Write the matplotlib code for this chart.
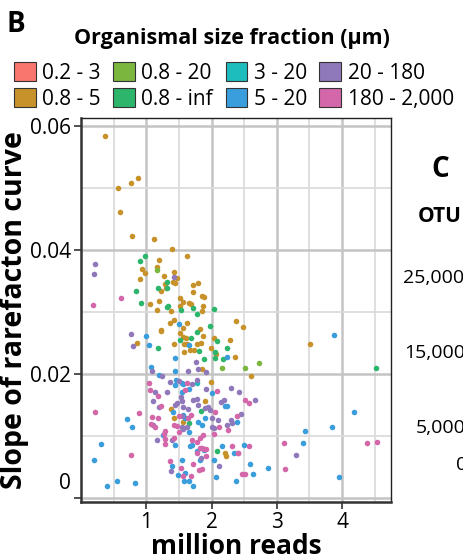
import numpy as np
import matplotlib
matplotlib.use('Agg')
import matplotlib.pyplot as plt
import matplotlib.transforms as mtransforms
from matplotlib.patches import Patch

plt.rcParams['font.family'] = ['Open Sans', 'DejaVu Sans']

# size fractions and their colours
labels = ['0.2 - 3', '0.8 - 5', '0.8 - 20', '0.8 - inf', '3 - 20', '5 - 20', '20 - 180', '180 - 2,000']
colors = ['#F8766D', '#C8922A', '#7BB63F', '#2DB56B', '#1EBDBD', '#3A9DDC', '#9079BA', '#D467A9']

# points: (million reads, slope)
pts_02_3 = []
pts_08_5 = [(0.37, 0.0584), (0.57, 0.0500), (0.77, 0.0508), (0.87, 0.0516), (0.60, 0.0461), (0.78, 0.0422),
            (1.12, 0.0417), (1.39, 0.0402), (1.63, 0.0391), (1.20, 0.0384), (0.94, 0.0370), (0.98, 0.0363),
            (1.17, 0.0372), (1.43, 0.0365), (1.47, 0.0355), (1.27, 0.0358), (1.41, 0.0348), (1.44, 0.0347),
            (0.91, 0.0353), (1.29, 0.0345), (1.30, 0.0338), (1.23, 0.0334), (1.72, 0.0344), (1.80, 0.0347),
            (1.72, 0.0332), (1.86, 0.0326), (1.89, 0.0324), (1.51, 0.0323), (1.57, 0.0316), (1.66, 0.0315),
            (1.68, 0.0313), (1.87, 0.0309), (1.85, 0.0301), (1.19, 0.0318), (1.06, 0.0313), (1.17, 0.0303),
            (1.38, 0.0302), (1.52, 0.0309), (2.38, 0.0286), (2.48, 0.0276), (1.36, 0.0283), (1.42, 0.0287),
            (1.62, 0.0282), (1.56, 0.0274), (1.83, 0.0273), (1.22, 0.0271), (0.86, 0.0250), (1.23, 0.0269),
            (1.52, 0.0266), (1.57, 0.0259), (1.61, 0.0258), (1.87, 0.0261), (1.58, 0.0249), (1.43, 0.0248),
            (1.63, 0.0248), (1.77, 0.0248), (1.84, 0.0250), (1.58, 0.0236), (1.67, 0.0239), (1.73, 0.0238),
            (1.86, 0.0208), (2.03, 0.0258), (2.29, 0.0255), (2.36, 0.0227), (2.60, 0.0197), (1.99, 0.0187),
            (1.99, 0.0242), (2.07, 0.0232), (3.51, 0.0249), (1.38, 0.0143), (1.43, 0.0129), (1.57, 0.0122),
            (2.21, 0.0072), (2.22, 0.0067), (1.90, 0.0156)]
pts_08_20 = [(1.16, 0.0368), (2.16, 0.0210), (2.52, 0.0210), (2.73, 0.0218)]
pts_08_inf = [(0.98, 0.0390), (0.91, 0.0383), (1.31, 0.0349), (1.18, 0.0339), (1.32, 0.0339), (0.84, 0.0334),
              (0.92, 0.0315), (1.31, 0.0308), (1.34, 0.0310), (1.53, 0.0303), (1.72, 0.0306), (1.77, 0.0297),
              (2.03, 0.0305), (1.98, 0.0277), (1.18, 0.0242), (1.52, 0.0255), (1.77, 0.0267), (1.68, 0.0258),
              (1.81, 0.0237), (1.88, 0.0224), (2.09, 0.0254), (2.06, 0.0236), (2.06, 0.0226), (2.17, 0.0224),
              (2.23, 0.0242), (4.52, 0.0209), (1.66, 0.0121), (2.09, 0.0076), (1.84, 0.0141)]
pts_3_20 = [(1.77, 0.0186)]
pts_5_20 = [(1.50, 0.0280), (0.99, 0.0261), (1.04, 0.0246), (1.66, 0.0246), (2.24, 0.0227), (1.44, 0.0226),
            (1.07, 0.0211), (1.20, 0.0198), (1.44, 0.0204), (1.45, 0.0190), (1.44, 0.0183), (1.55, 0.0186),
            (1.57, 0.0184), (1.65, 0.0176), (1.54, 0.0171), (2.01, 0.0169), (0.70, 0.0127), (0.78, 0.0114),
            (1.25, 0.0101), (1.41, 0.0138), (1.57, 0.0134), (1.59, 0.0129), (1.66, 0.0107), (1.67, 0.0084),
            (1.70, 0.0085), (1.39, 0.0052), (1.55, 0.0062), (1.49, 0.0037), (1.60, 0.0041), (0.31, 0.0087),
            (0.20, 0.0061), (0.40, 0.0020), (0.55, 0.0027), (0.83, 0.0024), (1.44, 0.0085), (1.58, 0.0027),
            (1.65, 0.0027), (1.72, 0.0020), (1.82, 0.0061), (2.04, 0.0061), (2.07, 0.0034), (2.16, 0.0084),
            (2.35, 0.0072), (2.50, 0.0085), (2.59, 0.0055), (2.37, 0.0027), (2.63, 0.0039), (2.39, 0.0123),
            (2.20, 0.0149), (2.24, 0.0148), (2.86, 0.0048), (1.90, 0.0129), (1.80, 0.0123), (1.85, 0.0118),
            (1.77, 0.0075), (1.89, 0.0077), (3.87, 0.0263), (4.18, 0.0139), (3.43, 0.0108), (3.85, 0.0114),
            (3.40, 0.0088), (3.95, 0.0034)]
pts_20_180 = [(0.22, 0.0378), (0.20, 0.0362), (1.43, 0.0356), (0.76, 0.0264), (0.79, 0.0245), (1.76, 0.0219),
              (1.80, 0.0208), (1.92, 0.0203), (1.78, 0.0191), (1.91, 0.0175), (2.30, 0.0177), (2.42, 0.0171),
              (1.09, 0.0204), (1.24, 0.0196), (1.64, 0.0204), (1.37, 0.0187), (1.50, 0.0188), (1.70, 0.0184),
              (1.13, 0.0171), (1.31, 0.0171), (1.10, 0.0156), (1.20, 0.0146), (1.10, 0.0118), (1.16, 0.0094),
              (1.39, 0.0094), (1.44, 0.0150), (1.47, 0.0153), (1.53, 0.0163), (1.55, 0.0156), (1.56, 0.0146),
              (1.64, 0.0143), (1.54, 0.0115), (1.57, 0.0112), (1.55, 0.0133), (1.62, 0.0115), (1.38, 0.0044),
              (2.11, 0.0052), (2.67, 0.0158), (2.45, 0.0136), (2.30, 0.0126), (2.32, 0.0121), (2.23, 0.0117),
              (2.19, 0.0158), (2.14, 0.0154), (2.10, 0.0126), (2.03, 0.0113), (1.77, 0.0160), (1.90, 0.0145),
              (1.95, 0.0146), (1.97, 0.0142), (2.00, 0.0129), (2.01, 0.0115), (1.84, 0.0065), (3.29, 0.0070),
              (1.72, 0.0158), (1.80, 0.0150)]
pts_180_2000 = [(0.19, 0.0312), (0.62, 0.0323), (2.09, 0.0173), (1.62, 0.0185), (1.59, 0.0174), (1.04, 0.0186),
                (1.05, 0.0174), (0.89, 0.0137), (1.18, 0.0165), (1.23, 0.0148), (1.09, 0.0131), (1.18, 0.0129),
                (1.07, 0.0119), (1.13, 0.0115), (1.28, 0.0108), (1.27, 0.0103), (1.28, 0.0095), (1.28, 0.0087),
                (1.42, 0.0096), (1.50, 0.0106), (1.42, 0.0118), (1.47, 0.0116), (1.50, 0.0132), (1.64, 0.0129),
                (1.68, 0.0134), (1.70, 0.0093), (1.37, 0.0059), (1.53, 0.0048), (1.57, 0.0035), (1.72, 0.0054),
                (1.68, 0.0036), (0.22, 0.0138), (0.76, 0.0070), (1.81, 0.0045), (1.86, 0.0046), (1.77, 0.0073),
                (1.83, 0.0081), (1.88, 0.0079), (1.92, 0.0079), (2.32, 0.0084), (2.40, 0.0072), (2.41, 0.0072),
                (2.57, 0.0084), (2.47, 0.0038), (2.52, 0.0038), (2.52, 0.0158), (2.58, 0.0153), (2.39, 0.0133),
                (2.25, 0.0109), (2.05, 0.0139), (2.12, 0.0115), (2.04, 0.0103), (1.82, 0.0096), (1.87, 0.0102),
                (1.77, 0.0091), (1.92, 0.0067), (1.85, 0.0080), (3.11, 0.0088), (4.38, 0.0088), (4.53, 0.0091),
                (3.12, 0.0046)]
series = [pts_02_3, pts_08_5, pts_08_20, pts_08_inf, pts_3_20, pts_5_20, pts_20_180, pts_180_2000]

xticks = [1, 2, 3, 4]
yticks = [0, 0.02, 0.04, 0.06]
ytick_labels = ['0', '0.02', '0.04', '0.06']

fig = plt.figure(figsize=(4.63, 5.55), dpi=100)
ax = fig.add_axes([0.175, 0.0955, 0.6695, 0.692])

for pts, c in zip(series, colors):
    if len(pts) == 0:
        continue
    arr = np.array(pts)
    ax.scatter(arr[:, 0], arr[:, 1], s=16, color=c, linewidths=0, zorder=3)

ax.set_xlim(0, 4.75)
ax.set_ylim(-0.00065, 0.0613)
ax.set_xticks(xticks)
ax.set_xticks([0.5, 1.5, 2.5, 3.5, 4.5], minor=True)
ax.set_yticks(yticks)
ax.set_yticklabels(ytick_labels)
ax.set_yticks([0.01, 0.03, 0.05], minor=True)
ax.grid(which='major', color='#c4c4c4', linewidth=1.8, zorder=0)
ax.grid(which='minor', color='#dcdcdc', linewidth=1.3, zorder=0)
ax.set_axisbelow(True)
ax.tick_params(which='major', labelsize=15, length=5, width=1.2, color='#333333', pad=2)
ax.tick_params(which='minor', length=0)

# the "0" label sits a little above its tick in the original
shift = mtransforms.ScaledTranslation(0, 0.17, fig.dpi_scale_trans)
lab0 = ax.get_yticklabels()[0]
lab0.set_transform(lab0.get_transform() + shift)

for side in ['left', 'bottom']:
    ax.spines[side].set_linewidth(1.8)
    ax.spines[side].set_color('#333333')
for side in ['right', 'top']:
    ax.spines[side].set_linewidth(1.0)
    ax.spines[side].set_color('#222222')

ax.set_xlabel('million reads', fontsize=19, fontweight='bold', labelpad=0)
ax.set_ylabel('Slope of rarefacton curve', fontsize=20.5, fontweight='bold', labelpad=1)

# legend on top, title drawn on its own
fig.text(0.5, 0.931, 'Organismal size fraction (µm)', fontsize=15.5, fontweight='bold',
         ha='center', va='center')
handles = [Patch(facecolor=c, edgecolor='#333333', linewidth=0.8) for c in colors]
leg = fig.legend(handles, labels, ncol=4, loc='upper center', bbox_to_anchor=(0.505, 0.915),
                 frameon=False, fontsize=15, handlelength=1.05, handleheight=1.05,
                 handletextpad=0.3, columnspacing=0.6, labelspacing=0.22, borderpad=0.2)

fig.text(0.015, 0.982, 'B', fontsize=20, fontweight='bold', va='top', ha='left')

# part of the next panel, cut off at the right edge
fig.text(0.932, 0.695, 'C', fontsize=20, fontweight='bold', va='center', ha='left')
fig.text(0.903, 0.610, 'OTU', fontsize=15, fontweight='bold', va='center', ha='left')
fig.text(0.870, 0.499, '25,000', fontsize=14, va='center', ha='left')
fig.text(0.872, 0.364, '15,000', fontsize=14, va='center', ha='left')
fig.text(0.898, 0.229, '5,000', fontsize=14, va='center', ha='left')
fig.text(0.984, 0.162, '0', fontsize=14, va='center', ha='left')

fig.savefig('out.png', dpi=100)
